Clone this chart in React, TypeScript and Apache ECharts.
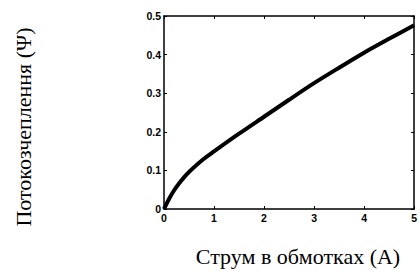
import React, { useEffect, useRef } from "react";
import * as echarts from "echarts";

const current = [0, 0.1, 0.2, 0.3, 0.4, 0.5, 0.75, 1, 1.5, 2, 2.5, 3, 3.5, 4, 4.5, 5];
const flux = [0, 0.026, 0.048, 0.066, 0.082, 0.096, 0.125, 0.149, 0.195, 0.239, 0.283, 0.326, 0.366, 0.405, 0.441, 0.476];
const xTitle = "Струм в обмотках (А)";
const yTitle = "Потокозчеплення (Ψ)";

export default function App() {
  const ref = useRef<HTMLDivElement>(null);
  useEffect(() => {
    if (!ref.current) return;
    const chart = echarts.init(ref.current, null, { renderer: "svg" });
    const labelStyle = { fontFamily: "Liberation Sans", fontWeight: "bold" as const, fontSize: 10.5, color: "#000" };
    const axisCommon = {
      axisLine: { show: true, onZero: false, lineStyle: { color: "#000", width: 1.5 } },
      axisTick: { show: true, inside: true, length: 3, lineStyle: { color: "#000", width: 1 } },
      splitLine: { show: false },
    };
    chart.setOption({
      animation: false,
      backgroundColor: "#fff",
      grid: { left: 164, right: 3, top: 16, bottom: 66 },
      xAxis: [
        { type: "value", min: 0, max: 5, interval: 1, ...axisCommon,
          axisLabel: { ...labelStyle, margin: 3 } },
        { type: "value", position: "top", min: 0, max: 5, interval: 1, ...axisCommon,
          axisLabel: { show: false } },
      ],
      yAxis: [
        { type: "value", min: 0, max: 0.5, interval: 0.1, ...axisCommon,
          axisLabel: { ...labelStyle, margin: 3, formatter: (v: number) => (v === 0 ? "0" : String(Math.round(v * 10) / 10)) } },
        { type: "value", position: "right", min: 0, max: 0.5, interval: 0.1, ...axisCommon,
          axisLabel: { show: false } },
      ],
      series: [
        {
          type: "line",
          data: current.map((c, i) => [c, flux[i]]),
          smooth: 0.3,
          showSymbol: false,
          lineStyle: { color: "#000", width: 4 },
          clip: true,
        },
      ],
      graphic: [
        { type: "text", x: 298, y: 256, style: { text: xTitle, font: "22px 'Liberation Serif'", fill: "#000", align: "center", verticalAlign: "middle" } },
        { type: "text", x: 23, y: 127, rotation: Math.PI / 2, style: { text: yTitle, font: "22px 'Liberation Serif'", fill: "#000", align: "center", verticalAlign: "middle" } },
      ],
    });
    return () => chart.dispose();
  }, []);
  return <div ref={ref} style={{ width: 420, height: 275, position: "absolute", left: 0, top: 0 }} />;
}
